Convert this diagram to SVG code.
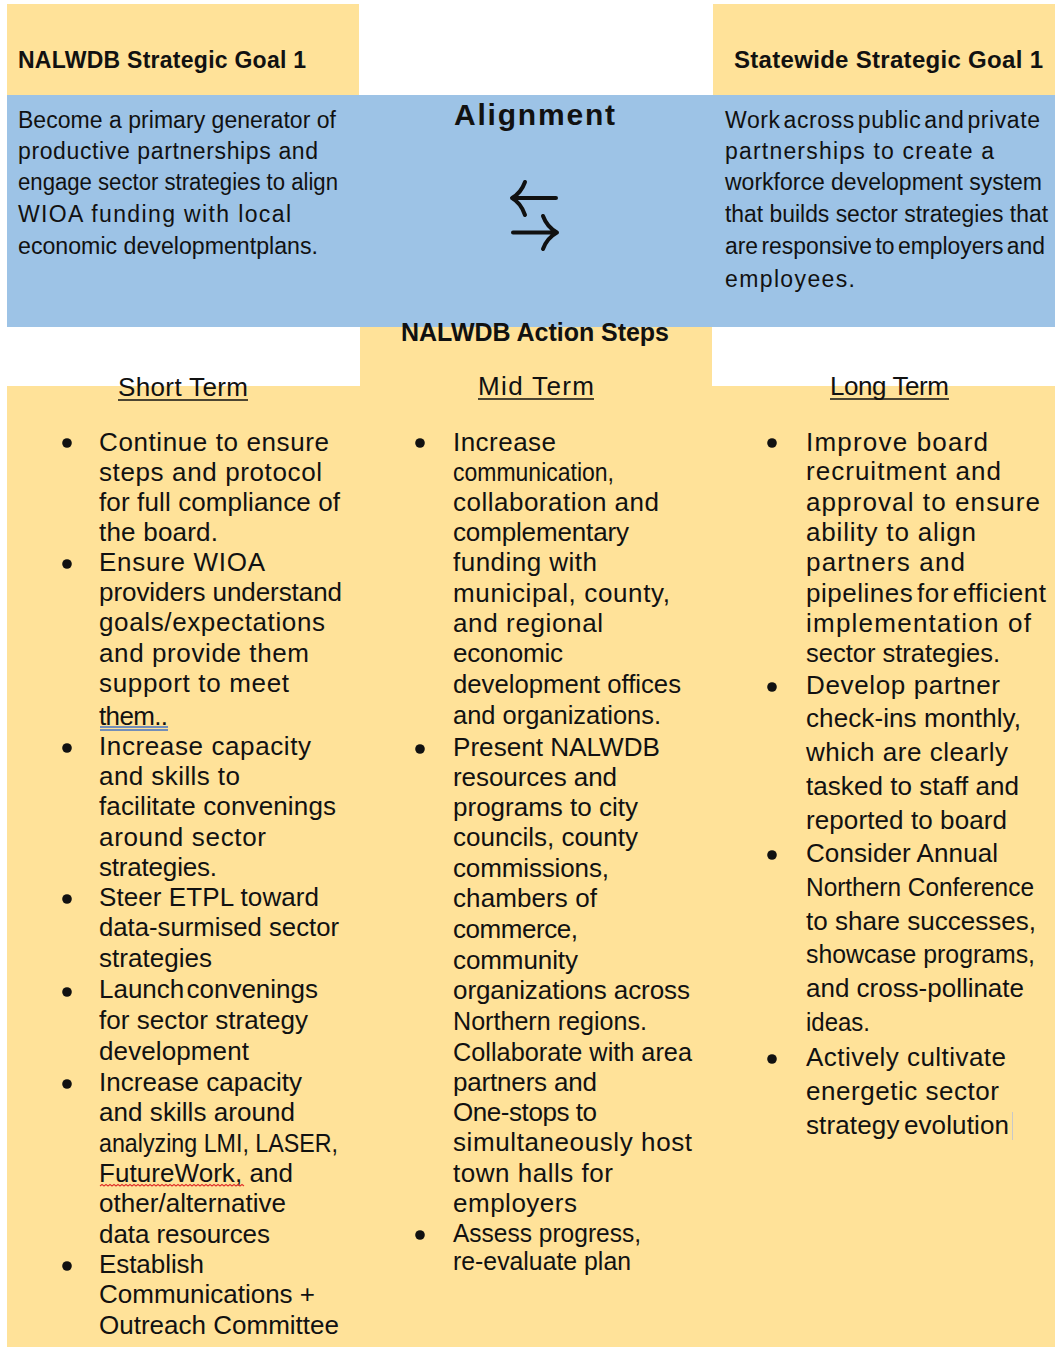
<svg xmlns="http://www.w3.org/2000/svg" width="1055" height="1347" viewBox="0 0 1055 1347">
  <style>
    text { font-family: "Liberation Sans", Arial, sans-serif; fill: #111; }
    .hd { font-size: 23px; font-weight: bold; }
    .hd2 { font-size: 24px; font-weight: bold; }
    .title { font-size: 30px; font-weight: bold; }
    .sub { font-size: 25px; font-weight: bold; }
    .goal { font-size: 23px; }
    .col { font-size: 26px; }
    .term { font-size: 26px; }
    .gold { fill: #FFE299; }
    .sky { fill: #9DC3E6; }
    .rule { stroke: #111; stroke-width: 1.6; }
    .bullet { fill: #111; }
    .arrow { fill: none; stroke: #111; stroke-width: 4; stroke-linecap: round; stroke-linejoin: round; }
  </style>

  <rect width="1055" height="1347" fill="#ffffff"/>

  <!-- background panels -->
  <g id="panels">
    <rect class="gold" x="7" y="4" width="352" height="92"/>
    <rect class="gold" x="713" y="4" width="342" height="92"/>
    <rect class="gold" x="360" y="326" width="352" height="62"/>
    <rect class="gold" x="7" y="386" width="1048" height="961"/>
    <rect class="sky" x="7" y="95" width="1048" height="232"/>
  </g>

  <!-- regional goal -->
  <g id="nalwdb-goal">
    <text class="hd" x="18" y="68" textLength="288">NALWDB Strategic Goal 1</text>
    <text class="goal" x="18" y="128" textLength="318">Become a primary generator of</text>
    <text class="goal" x="18" y="159" textLength="300">productive partnerships and</text>
    <text class="goal" x="18" y="190" textLength="320" lengthAdjust="spacingAndGlyphs">engage sector strategies to align</text>
    <text class="goal" x="18" y="222" textLength="273">WIOA funding with local</text>
    <text class="goal" x="18" y="254" textLength="300" lengthAdjust="spacingAndGlyphs">economic developmentplans.</text>
  </g>

  <!-- statewide goal -->
  <g id="statewide-goal">
    <text class="hd2" x="734" y="68" textLength="309">Statewide Strategic Goal 1</text>
    <text class="goal" x="725" y="128" textLength="315" word-spacing="-4">Work across public and private</text>
    <text class="goal" x="725" y="159" textLength="269">partnerships to create a</text>
    <text class="goal" x="725" y="190" textLength="317">workforce development system</text>
    <text class="goal" x="725" y="222" textLength="323" lengthAdjust="spacingAndGlyphs">that builds sector strategies that</text>
    <text class="goal" x="725" y="254" textLength="320" lengthAdjust="spacingAndGlyphs" word-spacing="-3">are responsive to employers and</text>
    <text class="goal" x="725" y="287" textLength="130">employees.</text>
  </g>

  <!-- alignment label and two-way arrows -->
  <g id="alignment">
    <text class="title" x="454" y="125" textLength="161">Alignment</text>
  </g>
  <g id="connectors">
    <path class="arrow" d="M556,198 H514 M525,182 Q521,193 512,198 Q521,203 525,215"/>
    <path class="arrow" d="M513,232.5 H555 M543,216 Q547,227 557,232.5 Q547,238 543,249"/>
  </g>

  <g id="action-steps-title">
    <text class="sub" x="401" y="341" textLength="268">NALWDB Action Steps</text>
  </g>

  <!-- short term column -->
  <g id="short-term">
    <text class="term" x="118" y="396" textLength="130">Short Term</text>
    <line class="rule" x1="118" y1="400" x2="248" y2="400"/>
    <circle class="bullet" cx="67" cy="443" r="4.8"/>
    <circle class="bullet" cx="67" cy="564" r="4.8"/>
    <circle class="bullet" cx="67" cy="748" r="4.8"/>
    <circle class="bullet" cx="67" cy="899" r="4.8"/>
    <circle class="bullet" cx="67" cy="992" r="4.8"/>
    <circle class="bullet" cx="67" cy="1084" r="4.8"/>
    <circle class="bullet" cx="67" cy="1266" r="4.8"/>
    <text class="col" x="99" y="451" textLength="230">Continue to ensure</text>
    <text class="col" x="99" y="481" textLength="223">steps and protocol</text>
    <text class="col" x="99" y="511" textLength="241">for full compliance of</text>
    <text class="col" x="99" y="541" textLength="119">the board.</text>
    <text class="col" x="99" y="571" textLength="166">Ensure WIOA</text>
    <text class="col" x="99" y="601" textLength="243">providers understand</text>
    <text class="col" x="99" y="631" textLength="226">goals/expectations</text>
    <text class="col" x="99" y="662" textLength="210">and provide them</text>
    <text class="col" x="99" y="692" textLength="190">support to meet</text>
    <text class="col" x="99" y="725" textLength="69">them..</text>
    <line x1="100" y1="727" x2="168" y2="727" stroke="#4472C4" stroke-width="1.3"/>
    <line x1="100" y1="730" x2="168" y2="730" stroke="#4472C4" stroke-width="1.3"/>
    <text class="col" x="99" y="755" textLength="212">Increase capacity</text>
    <text class="col" x="99" y="785" textLength="141">and skills to</text>
    <text class="col" x="99" y="815" textLength="237">facilitate convenings</text>
    <text class="col" x="99" y="846" textLength="167">around sector</text>
    <text class="col" x="99" y="876" textLength="118">strategies.</text>
    <text class="col" x="99" y="906" textLength="220">Steer ETPL toward</text>
    <text class="col" x="99" y="936" textLength="240" lengthAdjust="spacingAndGlyphs">data-surmised sector</text>
    <text class="col" x="99" y="967" textLength="113">strategies</text>
    <text class="col" x="99" y="998" textLength="219" word-spacing="-5">Launch convenings</text>
    <text class="col" x="99" y="1029" textLength="209">for sector strategy</text>
    <text class="col" x="99" y="1060" textLength="150">development</text>
    <text class="col" x="99" y="1091" textLength="203">Increase capacity</text>
    <text class="col" x="99" y="1121" textLength="196">and skills around</text>
    <text class="col" x="99" y="1152" textLength="239" lengthAdjust="spacingAndGlyphs">analyzing LMI, LASER,</text>
    <text class="col" x="99" y="1182" textLength="194">FutureWork, and</text>
    <path d="M100,1186 l2,-1.6 2,1.6 2,-1.6 2,1.6 2,-1.6 2,1.6 2,-1.6 2,1.6 2,-1.6 2,1.6 2,-1.6 2,1.6 2,-1.6 2,1.6 2,-1.6 2,1.6 2,-1.6 2,1.6 2,-1.6 2,1.6 2,-1.6 2,1.6 2,-1.6 2,1.6 2,-1.6 2,1.6 2,-1.6 2,1.6 2,-1.6 2,1.6 2,-1.6 2,1.6 2,-1.6 2,1.6 2,-1.6 2,1.6 2,-1.6 2,1.6 2,-1.6 2,1.6 2,-1.6 2,1.6 2,-1.6 2,1.6 2,-1.6 2,1.6 2,-1.6 2,1.6 2,-1.6 2,1.6 2,-1.6 2,1.6 2,-1.6 2,1.6 2,-1.6 2,1.6 2,-1.6 2,1.6 2,-1.6 2,1.6 2,-1.6 2,1.6 2,-1.6 2,1.6 2,-1.6 2,1.6 2,-1.6 2,1.6 2,-1.6 2,1.6 2,-1.6 2,1.6" fill="none" stroke="#E0302A" stroke-width="1.1"/>
    <text class="col" x="99" y="1212" textLength="187">other/alternative</text>
    <text class="col" x="99" y="1243" textLength="171">data resources</text>
    <text class="col" x="99" y="1273" textLength="105">Establish</text>
    <text class="col" x="99" y="1303" textLength="216" lengthAdjust="spacingAndGlyphs">Communications +</text>
    <text class="col" x="99" y="1334" textLength="240">Outreach Committee</text>
  </g>

  <!-- mid term column -->
  <g id="mid-term">
    <text class="term" x="478" y="395" textLength="116">Mid Term</text>
    <line class="rule" x1="478" y1="399" x2="594" y2="399"/>
    <circle class="bullet" cx="420" cy="443" r="4.8"/>
    <circle class="bullet" cx="420" cy="749" r="4.8"/>
    <circle class="bullet" cx="420" cy="1235" r="4.8"/>
    <text class="col" x="453" y="451" textLength="103">Increase</text>
    <text class="col" x="453" y="481" textLength="161" lengthAdjust="spacingAndGlyphs">communication,</text>
    <text class="col" x="453" y="511" textLength="206">collaboration and</text>
    <text class="col" x="453" y="541" textLength="176">complementary</text>
    <text class="col" x="453" y="571" textLength="144">funding with</text>
    <text class="col" x="453" y="602" textLength="217">municipal, county,</text>
    <text class="col" x="453" y="632" textLength="150">and regional</text>
    <text class="col" x="453" y="662" textLength="110">economic</text>
    <text class="col" x="453" y="693" textLength="228" lengthAdjust="spacingAndGlyphs">development offices</text>
    <text class="col" x="453" y="724" textLength="208" lengthAdjust="spacingAndGlyphs">and organizations.</text>
    <text class="col" x="453" y="756" textLength="207" lengthAdjust="spacingAndGlyphs">Present NALWDB</text>
    <text class="col" x="453" y="786" textLength="164">resources and</text>
    <text class="col" x="453" y="816" textLength="185">programs to city</text>
    <text class="col" x="453" y="846" textLength="185">councils, county</text>
    <text class="col" x="453" y="877" textLength="156">commissions,</text>
    <text class="col" x="453" y="907" textLength="144">chambers of</text>
    <text class="col" x="453" y="938" textLength="125">commerce,</text>
    <text class="col" x="453" y="969" textLength="125">community</text>
    <text class="col" x="453" y="999" textLength="237">organizations across</text>
    <text class="col" x="453" y="1030" textLength="194" lengthAdjust="spacingAndGlyphs">Northern regions.</text>
    <text class="col" x="453" y="1061" textLength="239" lengthAdjust="spacingAndGlyphs">Collaborate with area</text>
    <text class="col" x="453" y="1091" textLength="144">partners and</text>
    <text class="col" x="453" y="1121" textLength="144">One-stops to</text>
    <text class="col" x="453" y="1151" textLength="239">simultaneously host</text>
    <text class="col" x="453" y="1182" textLength="160">town halls for</text>
    <text class="col" x="453" y="1212" textLength="124">employers</text>
    <text class="col" x="453" y="1242" textLength="188" lengthAdjust="spacingAndGlyphs">Assess progress,</text>
    <text class="col" x="453" y="1270" textLength="178" lengthAdjust="spacingAndGlyphs">re-evaluate plan</text>
  </g>

  <!-- long term column -->
  <g id="long-term">
    <text class="term" x="830" y="395" textLength="119">Long Term</text>
    <line class="rule" x1="830" y1="399" x2="949" y2="399"/>
    <circle class="bullet" cx="772" cy="443" r="4.8"/>
    <circle class="bullet" cx="772" cy="687" r="4.8"/>
    <circle class="bullet" cx="772" cy="855" r="4.8"/>
    <circle class="bullet" cx="772" cy="1059" r="4.8"/>
    <text class="col" x="806" y="451" textLength="182">Improve board</text>
    <text class="col" x="806" y="480" textLength="195">recruitment and</text>
    <text class="col" x="806" y="511" textLength="234">approval to ensure</text>
    <text class="col" x="806" y="541" textLength="170">ability to align</text>
    <text class="col" x="806" y="571" textLength="159">partners and</text>
    <text class="col" x="806" y="602" textLength="240" word-spacing="-4">pipelines for efficient</text>
    <text class="col" x="806" y="632" textLength="225">implementation of</text>
    <text class="col" x="806" y="662" textLength="194" lengthAdjust="spacingAndGlyphs">sector strategies.</text>
    <text class="col" x="806" y="694" textLength="194">Develop partner</text>
    <text class="col" x="806" y="727" textLength="215">check-ins monthly,</text>
    <text class="col" x="806" y="761" textLength="202">which are clearly</text>
    <text class="col" x="806" y="795" textLength="213">tasked to staff and</text>
    <text class="col" x="806" y="829" textLength="201">reported to board</text>
    <text class="col" x="806" y="862" textLength="192">Consider Annual</text>
    <text class="col" x="806" y="896" textLength="228" lengthAdjust="spacingAndGlyphs">Northern Conference</text>
    <text class="col" x="806" y="930" textLength="230">to share successes,</text>
    <text class="col" x="806" y="963" textLength="229" lengthAdjust="spacingAndGlyphs">showcase programs,</text>
    <text class="col" x="806" y="997" textLength="218">and cross-pollinate</text>
    <text class="col" x="806" y="1031" textLength="64" lengthAdjust="spacingAndGlyphs">ideas.</text>
    <text class="col" x="806" y="1066" textLength="200">Actively cultivate</text>
    <text class="col" x="806" y="1100" textLength="193">energetic sector</text>
    <text class="col" x="806" y="1134" textLength="203" word-spacing="-3">strategy evolution</text>
    <line x1="1012.5" y1="1112" x2="1012.5" y2="1140" stroke="#c8c8c8" stroke-width="1"/>
  </g>
</svg>
